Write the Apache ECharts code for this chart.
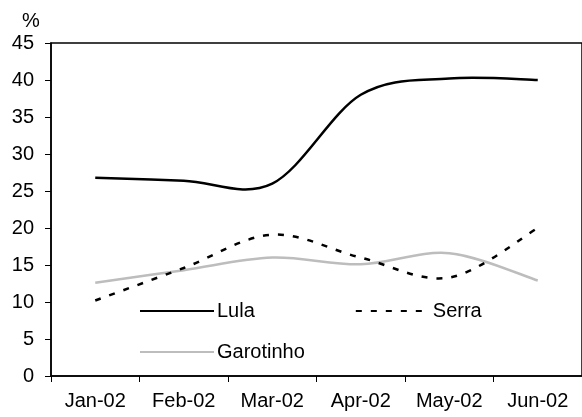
<!DOCTYPE html>
<html>
<head>
<meta charset="utf-8">
<script src="https://cdn.jsdelivr.net/npm/echarts@6/dist/echarts.min.js"></script>
<style>
  html, body { margin: 0; padding: 0; background: #ffffff; }
  #chart { width: 582px; height: 417px; }
</style>
</head>
<body>
<div id="chart"></div>
<script>
// Poll shares (%) per month, 2002
const months = ['Jan-02', 'Feb-02', 'Mar-02', 'Apr-02', 'May-02', 'Jun-02'];
const lula = [26.8, 26.4, 26.0, 38.0, 40.2, 40.0];
const serra = [10.2, 14.6, 19.1, 16.0, 13.3, 20.0];
const garotinho = [12.6, 14.3, 16.0, 15.1, 16.6, 12.9];
const yMin = 0, yMax = 45, yStep = 5;

const FONT = 'Liberation Sans, Arial, sans-serif';
const chart = echarts.init(document.getElementById('chart'), null, { renderer: 'canvas' });

// Smoothed curve through every point (Catmull-Rom as cubic Bezier),
// positioned with the chart's own coordinate system.
function smoothCurve(values, color, dash) {
  return {
    type: 'custom',
    silent: true,
    clip: false,
    z: 3,
    data: values.map((v, i) => [i, v]),
    renderItem: function (params, api) {
      if (params.dataIndex !== 0) return null;
      const p = values.map((v, i) => api.coord([i, v]));
      const n = p.length;
      let d = 'M' + p[0][0] + ',' + p[0][1];
      for (let i = 0; i < n - 1; i++) {
        const a = p[Math.max(i - 1, 0)], b = p[i], c = p[i + 1], e = p[Math.min(i + 2, n - 1)];
        const c1x = b[0] + (c[0] - a[0]) / 6, c1y = b[1] + (c[1] - a[1]) / 6;
        const c2x = c[0] - (e[0] - b[0]) / 6, c2y = c[1] - (e[1] - b[1]) / 6;
        d += ' C' + c1x + ',' + c1y + ' ' + c2x + ',' + c2y + ' ' + c[0] + ',' + c[1];
      }
      return {
        type: 'path',
        shape: { pathData: d },
        style: { fill: 'none', stroke: color, lineWidth: 2.5, lineDash: dash, lineCap: 'butt' }
      };
    }
  };
}

// Named line series carry the legend entries; their own stroke stays hidden.
const legendSeries = (name, data, color, type) => ({
  name: name,
  type: 'line',
  data: data,
  symbol: 'none',
  silent: true,
  lineStyle: { color: color, width: 2.5, type: type, opacity: 0 },
  itemStyle: { color: color },
  emphasis: { disabled: true }
});

const legendBase = {
  orient: 'horizontal',
  left: 139,
  padding: 0,
  itemWidth: 74,
  itemHeight: 20,
  itemGap: 100,
  itemStyle: { opacity: 0 },
  lineStyle: { opacity: 1 },
  textStyle: { fontFamily: FONT, fontSize: 20, color: '#000', padding: [0, 0, 0, -2] },
  selectedMode: false
};

chart.setOption({
  animation: false,
  title: {
    text: '%',
    left: 22,
    top: 11,
    padding: 0,
    textStyle: { fontFamily: FONT, fontSize: 20, fontWeight: 'normal', color: '#000' }
  },
  grid: {
    left: 51,
    top: 43,
    width: 540,
    height: 333,
    show: true,
    borderColor: '#000',
    borderWidth: 1.5,
    backgroundColor: 'transparent'
  },
  legend: [
    Object.assign({}, legendBase, { top: 301, data: ['Lula', 'Serra'] }),
    Object.assign({}, legendBase, { top: 342, data: ['Garotinho'] })
  ],
  xAxis: {
    type: 'category',
    data: months,
    boundaryGap: true,
    axisLine: { lineStyle: { color: '#000', width: 1.5 } },
    axisTick: { show: true, inside: false, length: 6, lineStyle: { color: '#000', width: 1 } },
    axisLabel: { fontFamily: FONT, fontSize: 20, color: '#000', margin: 15, interval: 0 },
    splitLine: { show: false }
  },
  yAxis: {
    type: 'value',
    min: yMin,
    max: yMax,
    interval: yStep,
    axisLine: { show: true, lineStyle: { color: '#000', width: 1.5 } },
    axisTick: { show: true, inside: false, length: 6, lineStyle: { color: '#000', width: 1 } },
    axisLabel: { fontFamily: FONT, fontSize: 20, color: '#000', margin: 17 },
    splitLine: { show: false }
  },
  series: [
    legendSeries('Lula', lula, '#000000', 'solid'),
    legendSeries('Serra', serra, '#000000', [6, 9]),
    legendSeries('Garotinho', garotinho, '#bdbdbd', 'solid'),
    smoothCurve(garotinho, '#bdbdbd', null),
    smoothCurve(serra, '#000000', [6, 9]),
    smoothCurve(lula, '#000000', null)
  ]
});
</script>
</body>
</html>
